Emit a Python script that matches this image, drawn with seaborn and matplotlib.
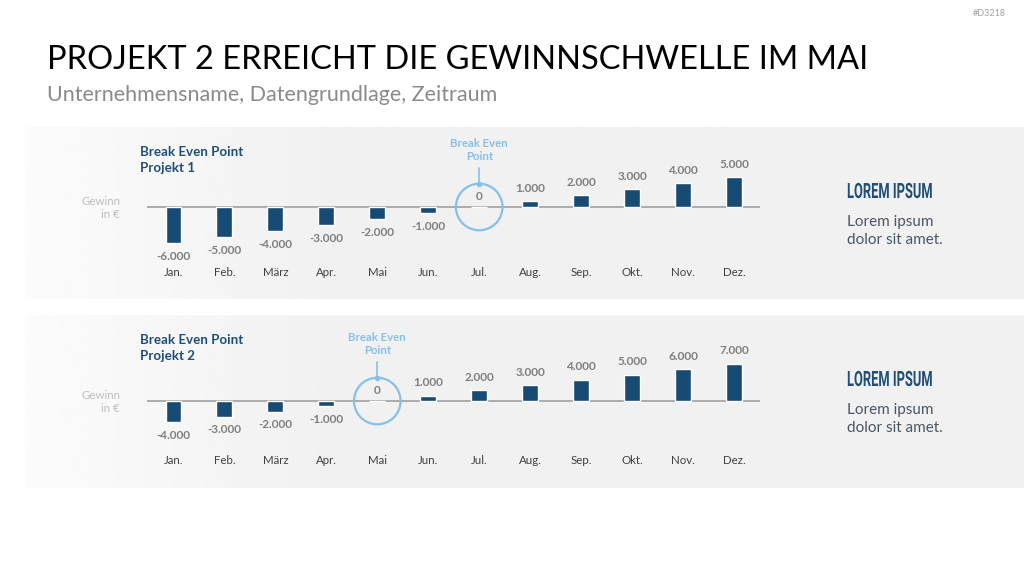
import numpy as np
import pandas as pd
import matplotlib
matplotlib.use("Agg")
import matplotlib.pyplot as plt
import seaborn as sns
from matplotlib.patheffects import AbstractPathEffect
from matplotlib.transforms import Affine2D

# ---------------- data ----------------
months = ["Jan.", "Feb.", "März", "Apr.", "Mai", "Jun.", "Jul.", "Aug.", "Sep.", "Okt.", "Nov.", "Dez."]
projekt1 = [-6000, -5000, -4000, -3000, -2000, -1000, 0, 1000, 2000, 3000, 4000, 5000]
projekt2 = [-4000, -3000, -2000, -1000, 0, 1000, 2000, 3000, 4000, 5000, 6000, 7000]
panel_titles = ["Break Even Point\nProjekt 1", "Break Even Point\nProjekt 2"]
title = "PROJEKT 2 ERREICHT DIE GEWINNSCHWELLE IM MAI"
subtitle = "Unternehmensname, Datengrundlage, Zeitraum"
side_head = "LOREM IPSUM"
side_body = "Lorem ipsum\ndolor sit amet."
y_label = "Gewinn\nin €"
bep_label = "Break Even\nPoint"
code = "#D3218"

# ---------------- style ----------------
sns.set_theme(style="white")
plt.rcParams['font.family'] = ['Lato', 'DejaVu Sans']

BAR = "#174b73"
DARK = "#1f4e79"
BEP = "#86c0ea"
VAL = "#7f7f7f"
MONTH = "#404040"
AXL = "#a6a6a6"

W, H = 1024, 576
fig = plt.figure(figsize=(W / 100, H / 100), dpi=100)
fig.patch.set_facecolor("white")
bg = fig.add_axes([0, 0, 1, 1])
bg.set_xlim(0, W)
bg.set_ylim(H, 0)
bg.axis("off")
PT = 0.72  # points per pixel at 100 dpi


class VStretch(AbstractPathEffect):
    """Stretch glyphs vertically about a baseline (display y0)."""
    def __init__(self, sy, y0):
        super().__init__()
        self.sy = sy
        self.y0 = y0

    def draw_path(self, renderer, gc, tpath, affine, rgbFace=None):
        a = affine + Affine2D().translate(0, -self.y0).scale(1, self.sy).translate(0, self.y0)
        renderer.draw_path(gc, tpath, a, rgbFace)


def fit(t, width_px):
    fig.canvas.draw()
    r = fig.canvas.get_renderer()
    w = t.get_window_extent(r).width
    t.set_fontsize(t.get_fontsize() * width_px / w)


# header texts
t = bg.text(47, 69, title, fontsize=28, color="black", va="baseline", ha="left")
fit(t, 818)
t = bg.text(47, 101, subtitle, fontsize=14, color="#8a8a8a", va="baseline", ha="left")
fit(t, 450)
bg.text(1006, 13, code, fontsize=6.5, color="#a0a0a0", ha="right", va="center")

# gradient panel backgrounds
xs = np.linspace(25, W, 1000)
shade = np.interp(xs, [25, 320], [0.985, 0.945])
grad = np.tile(shade, (2, 1))

panels = [
    dict(top=127, bottom=299, zero=207, ppu=0.006, data=projekt1, ptitle=panel_titles[0]),
    dict(top=315, bottom=488, zero=401, ppu=0.0053, data=projekt2, ptitle=panel_titles[1]),
]

for p in panels:
    bg.imshow(grad, cmap="gray", vmin=0, vmax=1, aspect="auto",
              extent=[25, W, p["bottom"], p["top"]], zorder=0, interpolation="bilinear")

    # left texts
    bg.text(140, p["top"] + 33, p["ptitle"], fontsize=9.6, fontweight="bold", color=DARK,
            ha="left", va="center", linespacing=1.45)
    bg.text(120, p["zero"] + 1, y_label, fontsize=8.3, color="#bdbdbd", ha="right",
            va="center", linespacing=1.2)
    # right texts
    base = p["top"] + 71
    th = bg.text(847, base, side_head, fontsize=14, fontweight="bold", color=DARK,
                 ha="left", va="baseline", family=["Roboto", "DejaVu Sans"])
    fit(th, 86)
    cap_px = 0.711 * th.get_fontsize() / PT
    th.set_path_effects([VStretch(15.0 / cap_px, H - base)])
    bg.text(847, p["top"] + 104, side_body, fontsize=11, color="#4a5666", ha="left",
            va="center", linespacing=1.45)

    # chart axes
    left, right = 147, 760
    ax = fig.add_axes([left / W, 1 - p["bottom"] / H, (right - left) / W,
                       (p["bottom"] - p["top"]) / H])
    ax.patch.set_alpha(0)
    df = pd.DataFrame({"Monat": months, "Gewinn": p["data"]})
    sns.barplot(data=df, x="Monat", y="Gewinn", order=months, color=BAR, saturation=1,
                width=0.314, ax=ax, zorder=3)
    step = 50.95
    ax.set_xlim((left - 173.5) / step, (right - 173.5) / step)
    ppu = p["ppu"]
    ax.set_ylim(-(p["bottom"] - p["zero"]) / ppu, (p["zero"] - p["top"]) / ppu)
    ax.axhline(0, color=AXL, lw=1.3, zorder=2)
    ax.axis("off")

    month_y = 1 - 145 / (p["bottom"] - p["top"])
    for i, (m, v) in enumerate(zip(months, p["data"])):
        ax.text(i, month_y, m, transform=ax.get_xaxis_transform(), ha="center",
                va="center", fontsize=8.3, color=MONTH)
        lab = f"{v:,}".replace(",", ".")
        if v > 0:
            off = 13
        elif v < 0:
            off = -13
        else:
            off = 11
        ax.annotate(lab, xy=(i, v), xytext=(0, off), textcoords="offset pixels",
                    ha="center", va="center", fontsize=8.5, fontweight="bold", color=VAL,
                    zorder=4)
        if v == 0:
            r_px = 23.3
            ax.scatter([i], [0], s=(2 * r_px * PT) ** 2, facecolors="none",
                       edgecolors=BEP, linewidths=1.6, zorder=5)
            ax.plot([i, i], [r_px / ppu, 39 / ppu], color=BEP, lw=1.2, zorder=5)
            ax.plot([i], [r_px / ppu], marker="o", ms=3, color=BEP, zorder=5)
            ax.annotate(bep_label, xy=(i, 0), xytext=(0, 57), textcoords="offset pixels",
                        ha="center", va="center", fontsize=8.2, fontweight="bold",
                        color=BEP, linespacing=1.2, zorder=5)

fig.savefig("out.png", dpi=100, facecolor="white")
